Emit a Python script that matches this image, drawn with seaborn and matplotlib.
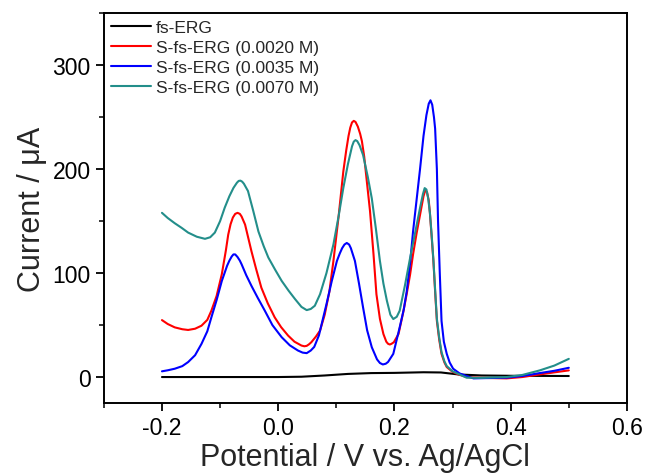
import numpy as np
import pandas as pd
import seaborn as sns
import matplotlib.pyplot as plt
from matplotlib.ticker import MultipleLocator

# values (potential in V, current in uA)
black_x = [-0.2, -0.1, 0.0, 0.04, 0.08, 0.12, 0.16, 0.2, 0.25, 0.28, 0.31, 0.35, 0.4, 0.5]
black_y = [0, 0, 0, 0.3, 1.5, 3.0, 3.8, 4.0, 4.6, 4.4, 2.5, 1.5, 1.2, 1.0]

red_x = [-0.2, -0.19, -0.178, -0.165, -0.155, -0.143, -0.132, -0.122, -0.115, -0.106,
         -0.097, -0.090, -0.086, -0.082, -0.078, -0.074, -0.070, -0.066, -0.063, -0.057,
         -0.046, -0.038, -0.029, -0.018, -0.006, 0.005, 0.017, 0.028, 0.040, 0.045,
         0.049, 0.053, 0.057, 0.065, 0.072, 0.080, 0.088, 0.095, 0.104, 0.112,
         0.117, 0.121, 0.124, 0.127, 0.130, 0.133, 0.137, 0.141, 0.144, 0.148,
         0.151, 0.158, 0.164, 0.169, 0.175, 0.181, 0.186, 0.189, 0.192, 0.195,
         0.199, 0.207, 0.215, 0.221, 0.227, 0.232, 0.238, 0.244, 0.247, 0.250,
         0.253, 0.256, 0.259, 0.261, 0.264, 0.267, 0.270, 0.273, 0.277, 0.281,
         0.286, 0.290, 0.300, 0.310, 0.324, 0.35, 0.393, 0.42, 0.45, 0.475, 0.5]
red_y = [54.8, 51, 47.8, 46, 45.3, 46.5, 49.4, 55, 63.8, 78,
         99, 122, 137, 147, 153.5, 157, 158, 157, 154.5, 146.7,
         121, 104, 86, 71, 57.4, 48, 39.9, 34, 30.3, 29.6,
         30, 31.5, 33.5, 39, 44.7, 60, 82, 111.7, 155, 197.7,
         218, 232, 240, 245, 246.5, 245.5, 241, 234, 227, 212,
         196, 159.5, 118, 79.7, 56, 41.4, 34, 32, 31.3, 32,
         33.5, 41.4, 62, 79.7, 98.9, 118, 138, 156, 165, 174,
         179.5, 178, 170, 158, 135, 111.7, 82, 54, 36, 22.3,
         14, 9.6, 5, 2.5, 0, -0.8, -1.3, 0, 2.5, 4.5, 6.4]

blue_x = [-0.2, -0.19, -0.178, -0.165, -0.155, -0.143, -0.132, -0.122, -0.115, -0.106,
          -0.097, -0.088, -0.084, -0.080, -0.077, -0.074, -0.070, -0.066, -0.063, -0.055,
          -0.046, -0.035, -0.023, -0.010, 0.006, 0.020, 0.034, 0.042, 0.049, 0.056,
          0.062, 0.070, 0.083, 0.092, 0.101, 0.106, 0.110, 0.114, 0.118, 0.122,
          0.125, 0.132, 0.139, 0.146, 0.153, 0.161, 0.170, 0.175, 0.180, 0.185,
          0.189, 0.198, 0.209, 0.216, 0.221, 0.227, 0.232, 0.238, 0.244, 0.250,
          0.255, 0.259, 0.262, 0.265, 0.268, 0.270, 0.273, 0.275, 0.278, 0.281,
          0.285, 0.290, 0.295, 0.301, 0.312, 0.324, 0.336, 0.36, 0.393, 0.42,
          0.45, 0.475, 0.5]
blue_y = [5.5, 6.5, 8, 10.5, 14.4, 21, 31.9, 44, 57.4, 74,
          92.5, 107, 112, 116, 118, 118, 115.5, 112, 108.5, 98,
          87.7, 76, 63.8, 50, 38.3, 30.5, 25.5, 23.5, 23, 25.5,
          29, 40, 70, 92, 111.7, 119, 124, 127.5, 129, 127.5,
          124, 111.7, 90, 67, 45, 28.7, 17, 13.5, 12.1, 12.8,
          14.5, 22.3, 47.8, 65, 82, 110, 140, 170, 200, 232,
          252, 263, 266.3, 262, 250, 239, 200, 150, 100, 54,
          34, 22.3, 14, 8, 3.5, 1, -1.3, -1, -0.6, 1,
          3.8, 6, 8.9]

teal_x = [-0.2, -0.19, -0.178, -0.166, -0.155, -0.140, -0.126, -0.117, -0.109, -0.100,
          -0.092, -0.084, -0.077, -0.071, -0.068, -0.065, -0.062, -0.059, -0.052, -0.043,
          -0.034, -0.025, -0.017, -0.005, 0.006, 0.018, 0.029, 0.040, 0.049, 0.056,
          0.063, 0.072, 0.083, 0.095, 0.104, 0.112, 0.120, 0.127, 0.130, 0.133,
          0.136, 0.140, 0.146, 0.154, 0.161, 0.168, 0.175, 0.181, 0.187, 0.193,
          0.198, 0.204, 0.209, 0.218, 0.227, 0.236, 0.244, 0.249, 0.252, 0.255,
          0.258, 0.261, 0.264, 0.267, 0.270, 0.273, 0.277, 0.281, 0.286, 0.290,
          0.300, 0.310, 0.324, 0.35, 0.393, 0.42, 0.45, 0.475, 0.5]
teal_y = [158, 153, 148, 143.5, 139, 135, 133, 134.5, 139, 150,
          163, 174, 182, 187, 188.7, 189, 188, 186, 179, 160,
          140, 126, 115, 103, 92.5, 83, 75, 67.5, 64.4, 65.5,
          68.6, 79.7, 100, 127.6, 155, 181.8, 205, 222, 226.5, 228,
          227, 223, 213.7, 193, 172, 143, 111.7, 90, 73.4, 60,
          55.8, 58, 63.8, 88, 114.8, 140, 162.7, 176, 181.8, 180.5,
          172, 158, 137, 113, 84, 56, 38, 24, 15, 10.5,
          5.5, 3, -0.6, -0.8, 0, 2, 6.4, 11, 17.5]

labels = ['fs-ERG', 'S-fs-ERG (0.0020 M)', 'S-fs-ERG (0.0035 M)', 'S-fs-ERG (0.0070 M)']
colors = ['#000000', '#FF0000', '#0000FF', '#238E8A']
series = [(black_x, black_y), (red_x, red_y), (blue_x, blue_y), (teal_x, teal_y)]

sns.set_style('ticks')
plt.rcParams['font.family'] = ['Liberation Sans', 'DejaVu Sans']

fig, ax = plt.subplots(figsize=(6.49, 4.77), dpi=100)
fig.subplots_adjust(left=0.160, right=0.966, top=0.970, bottom=0.153)

for (xs, ys), lab, col in zip(series, labels, colors):
    sns.lineplot(x=xs, y=ys, ax=ax, color=col, label=lab, linewidth=1.5, sort=False)

ax.set_xlim(-0.3, 0.6)
ax.set_ylim(-25, 350)
ax.xaxis.set_minor_locator(MultipleLocator(0.1))
ax.yaxis.set_major_locator(MultipleLocator(100))
ax.yaxis.set_minor_locator(MultipleLocator(50))
ax.set_xticks([-0.2, 0.0, 0.2, 0.4, 0.6])
ax.set_xticklabels(['-0.2', '0.0', '0.2', '0.4', '0.6'])
ax.tick_params(which='major', direction='out', length=6, width=1.3, labelsize=16.5, colors='black')
ax.tick_params(which='minor', direction='out', length=3.5, width=1.3)
for sp in ax.spines.values():
    sp.set_visible(True)
    sp.set_linewidth(1.4)
    sp.set_color('black')

ax.set_xlabel('Potential / V vs. Ag/AgCl', fontsize=22, labelpad=2)
ax.set_ylabel('Current / \u03bcA', fontsize=22, labelpad=4)

ax.legend(loc='upper left', frameon=False, fontsize=12.5, handlelength=2.3,
          handletextpad=0.3, labelspacing=0.28, borderaxespad=0.3, borderpad=0.1)

fig.savefig('out.png', dpi=100)
